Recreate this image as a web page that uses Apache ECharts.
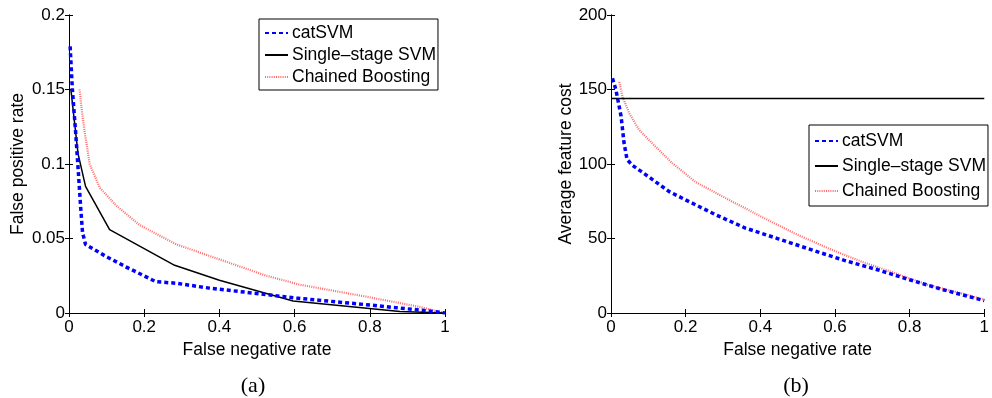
<!DOCTYPE html>
<html>
<head>
<meta charset="utf-8">
<script src="https://cdn.jsdelivr.net/npm/echarts@6/dist/echarts.min.js"></script>
<style>
  html, body { margin: 0; padding: 0; background: #fff; }
  #chart { width: 992px; height: 398px; }
</style>
</head>
<body>
<div id="chart"></div>
<script>
// (a) false positive rate vs false negative rate
var catFnrA = [0.003, 0.009, 0.018, 0.025, 0.031, 0.036, 0.044, 0.098, 0.151, 0.231, 0.284, 0.373, 0.489, 0.605, 0.79, 0.97, 1];
var catFprA = [0.179, 0.15, 0.12, 0.094, 0.071, 0.054, 0.046, 0.038, 0.031, 0.021, 0.020, 0.0167, 0.0134, 0.010, 0.0056, 0.001, 0];
var svmFnrA = [0.005, 0.024, 0.044, 0.108, 0.281, 0.40, 0.596, 0.88, 1];
var svmFprA = [0.15, 0.107, 0.085, 0.056, 0.032, 0.022, 0.008, 0.001, 0];
var cbFnrA = [0.028, 0.035, 0.042, 0.055, 0.082, 0.126, 0.188, 0.286, 0.40, 0.525, 0.614, 0.79, 0.925, 1];
var cbFprA = [0.15, 0.134, 0.121, 0.100, 0.084, 0.072, 0.059, 0.046, 0.036, 0.025, 0.019, 0.011, 0.0045, 0];

// (b) average feature cost vs false negative rate
var catFnrB = [0.004, 0.013, 0.027, 0.035, 0.043, 0.058, 0.10, 0.155, 0.208, 0.28, 0.36, 0.448, 0.536, 0.625, 0.714, 0.80, 0.89, 1];
var catCostB = [157.5, 150, 132, 114, 103, 99, 91.6, 81.6, 74.9, 66, 57, 49.8, 42.5, 35.3, 29, 22.3, 15.6, 8.3];
var svmFnrB = [0, 1];
var svmCostB = [144, 144];
var cbFnrB = [0.022, 0.031, 0.049, 0.075, 0.11, 0.164, 0.226, 0.315, 0.40, 0.49, 0.58, 0.67, 0.76, 0.847, 0.935, 1];
var cbCostB = [155, 145, 134, 123, 114, 100.6, 88, 76, 65, 53.6, 43.6, 34.6, 26.8, 19, 13.4, 9];

var names = ['catSVM', 'Single–stage SVM', 'Chained Boosting'];
var xTicks = 0.2;
var yTicksA = 0.05;
var yTicksB = 50;

function zip(xs, ys) {
  return xs.map(function (x, i) { return [x, ys[i]]; });
}

var font = 'Liberation Sans, Arial, Helvetica, sans-serif';
var txt = { color: '#000', fontFamily: font, fontSize: 17.5 };

function xAxis(grid, top) {
  return {
    type: 'value', gridIndex: grid, min: 0, max: 1, interval: xTicks,
    position: top ? 'top' : 'bottom',
    name: top ? '' : 'False negative rate',
    nameLocation: 'middle', nameGap: 17,
    nameTextStyle: txt,
    axisLine: { show: true, lineStyle: { color: '#000', width: 1 } },
    axisTick: { show: true, inside: true, length: 4, lineStyle: { color: '#000' } },
    axisLabel: { show: !top, margin: 6, color: '#000', fontFamily: font, fontSize: 17 },
    splitLine: { show: false }
  };
}

function yAxis(grid, right, max, step, title, gap) {
  return {
    type: 'value', gridIndex: grid, min: 0, max: max, interval: step,
    position: right ? 'right' : 'left',
    name: right ? '' : title,
    nameLocation: 'middle', nameGap: gap,
    nameTextStyle: txt,
    axisLine: { show: true, lineStyle: { color: '#000', width: 1 } },
    axisTick: { show: true, inside: true, length: 4, lineStyle: { color: '#000' } },
    axisLabel: { show: !right, margin: 4, color: '#000', fontFamily: font, fontSize: 17 },
    splitLine: { show: false }
  };
}

var catStyle = { color: '#0000ff', width: 3.5, type: [4, 3] };
var svmStyle = { color: '#000', width: 1.5, type: 'solid' };
var cbStyle = { color: '#ff6a6a', width: 2.2, type: [1, 1.2] };

function line(name, data, xi, yi, style) {
  return {
    name: name, type: 'line', data: data,
    xAxisIndex: xi, yAxisIndex: yi,
    showSymbol: false, symbol: 'none',
    lineStyle: style, itemStyle: { color: style.color },
    animation: false
  };
}

function legend(left, top, pad, gap) {
  return {
    data: names, orient: 'vertical', left: left, top: top,
    padding: pad, itemGap: gap, itemWidth: 23, itemHeight: 14,
    selectedMode: false,
    itemStyle: { opacity: 0 },
    backgroundColor: '#fff', borderColor: '#000', borderWidth: 1,
    textStyle: { color: '#000', fontFamily: font, fontSize: 17.5, lineHeight: 17, padding: [0, 0, 0, -1] }
  };
}

var chart = echarts.init(document.getElementById('chart'));
chart.setOption({
  backgroundColor: '#fff',
  animation: false,
  title: [
    { text: '(a)', left: 248, top: 370, textAlign: 'center',
      textStyle: { fontFamily: 'Liberation Serif, Times New Roman, serif', fontSize: 22, fontWeight: 'normal', color: '#000' } },
    { text: '(b)', left: 791, top: 370, textAlign: 'center',
      textStyle: { fontFamily: 'Liberation Serif, Times New Roman, serif', fontSize: 22, fontWeight: 'normal', color: '#000' } }
  ],
  grid: [
    { left: 69, top: 15, width: 376, height: 298, show: false },
    { left: 611, top: 15, width: 376, height: 298, show: false }
  ],
  xAxis: [xAxis(0, false), xAxis(0, true), xAxis(1, false), xAxis(1, true)],
  yAxis: [
    yAxis(0, false, 0.2, yTicksA, 'False positive rate', 42),
    yAxis(0, true, 0.2, yTicksA, '', 0),
    yAxis(1, false, 200, yTicksB, 'Average feature cost', 36),
    yAxis(1, true, 200, yTicksB, '', 0)
  ],
  legend: [
    legend(259, 19, [5, 2, 4, 5], 4),
    legend(809, 125, [7, 2, 6, 5], 7)
  ],
  series: [
    line(names[2], zip(cbFnrA, cbFprA), 0, 0, cbStyle),
    line(names[1], zip(svmFnrA, svmFprA), 0, 0, svmStyle),
    line(names[0], zip(catFnrA, catFprA), 0, 0, catStyle),
    line(names[2], zip(cbFnrB, cbCostB), 2, 2, cbStyle),
    line(names[1], zip(svmFnrB, svmCostB), 2, 2, svmStyle),
    line(names[0], zip(catFnrB, catCostB), 2, 2, catStyle)
  ]
});
</script>
</body>
</html>
